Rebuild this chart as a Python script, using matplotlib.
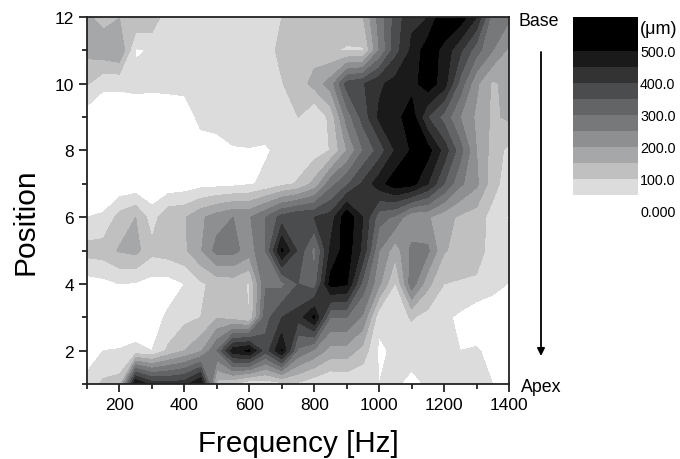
import matplotlib
matplotlib.use('Agg')
import matplotlib.pyplot as plt
import numpy as np

plt.rcParams['font.family'] = ['Liberation Sans', 'DejaVu Sans']

freq = list(range(100, 1401, 50))
position = list(range(1, 13))

# amplitude in um, one list per position
pos_1 = [65,110,120,510,430,420,430,510,130,100,55,65,80,90,65,48,55,55,50,55,40,55,55,60,60,50,20]
pos_2 = [25,50,52,60,50,110,150,190,300,480,510,370,505,290,240,180,180,130,40,60,65,70,60,50,55,35,20]
pos_3 = [20,20,20,20,30,58,85,100,145,125,100,330,400,420,510,300,300,240,65,75,105,80,60,40,15,20,20]
pos_4 = [27,35,50,45,30,28,50,92,115,120,95,295,285,350,320,520,505,330,210,95,280,165,100,95,90,65,48]
pos_5 = [120,125,155,165,115,125,140,195,270,268,225,300,510,390,280,460,528,435,250,170,265,260,155,130,125,75,65]
pos_6 = [50,55,120,150,75,140,145,190,225,250,245,300,370,400,400,420,540,450,320,290,205,205,170,140,125,80,45]
pos_7 = [20,20,5,10,5,12,20,30,32,35,45,60,85,105,165,280,340,410,480,530,520,450,350,260,210,120,70]
pos_8 = [20,15,15,15,15,15,15,30,35,47,48,45,62,70,75,102,200,300,370,455,505,520,430,320,200,130,85]
pos_9 = [22,15,15,15,15,15,27,62,65,68,70,72,90,100,48,115,270,370,460,480,530,400,330,250,190,140,160]
pos_10 = [105,60,60,65,62,65,63,80,85,85,85,88,98,120,170,222,370,395,440,470,480,530,474,330,210,140,170]
pos_11 = [165,185,200,45,53,75,75,75,75,75,75,85,110,125,125,105,95,95,250,380,460,530,484,410,320,250,190]
pos_12 = [160,130,148,148,140,62,70,70,70,70,70,80,100,115,125,125,130,148,270,370,440,450,545,530,450,270,260]

levels = [0, 50, 100, 150, 200, 250, 300, 350, 400, 450, 500, 606]
greys = ['#ffffff', '#dcdcdc', '#c0c0c0', '#a6a7a8', '#8e8f91', '#77787a',
         '#636465', '#4b4c4d', '#333333', '#1a1a1a', '#000000']
bar_ticks = [0, 100, 200, 300, 400, 500]
bar_labels = ['0.000', '100.0', '200.0', '300.0', '400.0', '500.0']

Z = np.array([pos_1, pos_2, pos_3, pos_4, pos_5, pos_6,
              pos_7, pos_8, pos_9, pos_10, pos_11, pos_12])

W, H = 680, 460
fig = plt.figure(figsize=(W / 100, H / 100), dpi=100)
ax = fig.add_axes([87 / W, 1 - 385 / H, 422 / W, 367 / H])

ax.contourf(freq, position, Z, levels=levels, colors=greys)

ax.set_xlim(100, 1400)
ax.set_ylim(1, 12)
ax.set_xticks(range(200, 1401, 200))
ax.set_xticks(range(100, 1401, 100), minor=True)
ax.set_yticks(range(2, 13, 2))
ax.set_yticks(range(1, 13), minor=True)
ax.tick_params(which='major', length=6, width=1.3, labelsize=12.5, color='#222222')
ax.tick_params(which='minor', length=3.5, width=1.3, color='#222222')
for s in ax.spines.values():
    s.set_linewidth(1.3)
    s.set_color('#222222')
ax.set_xlabel('Frequency [Hz]', fontsize=21.3)
ax.xaxis.set_label_coords(0.5, (385 - 444) / 367, transform=ax.transAxes)
ax.xaxis.label.set_va('center')
ax.set_ylabel('Position', fontsize=21.5)
ax.yaxis.set_label_coords((26 - 87) / 422, (385 - 222) / 367, transform=ax.transAxes)
ax.yaxis.label.set_va('center')

# legend swatches, same value scale as the contours
cax = fig.add_axes([573 / W, 1 - 212 / H, 65 / W, 194 / H])
cax.bar(0, np.diff(levels), bottom=levels[:-1], width=1, color=greys)
cax.set_xlim(-0.5, 0.5)
cax.set_ylim(0, 606)
cax.set_xticks([])
cax.yaxis.tick_right()
cax.set_yticks(bar_ticks)
cax.set_yticklabels(bar_labels, fontsize=10.3)
cax.tick_params(axis='y', length=0, pad=1.5)
for s in cax.spines.values():
    s.set_visible(False)

fig.text(640 / W, 1 - 29 / H, '(μm)', fontsize=13, va='center')
fig.text(539 / W, 1 - 21 / H, 'Base', fontsize=12.8, ha='center', va='center')
fig.text(541 / W, 1 - 388 / H, 'Apex', fontsize=12.8, ha='center', va='center')
ax.annotate('', xy=(541 / W, 1 - 357 / H), xytext=(541 / W, 1 - 53 / H),
            xycoords='figure fraction', textcoords='figure fraction',
            arrowprops=dict(arrowstyle='-|>', color='black', lw=1.3, mutation_scale=11,
                            shrinkA=0, shrinkB=0))

fig.savefig('out.png', dpi=100)
